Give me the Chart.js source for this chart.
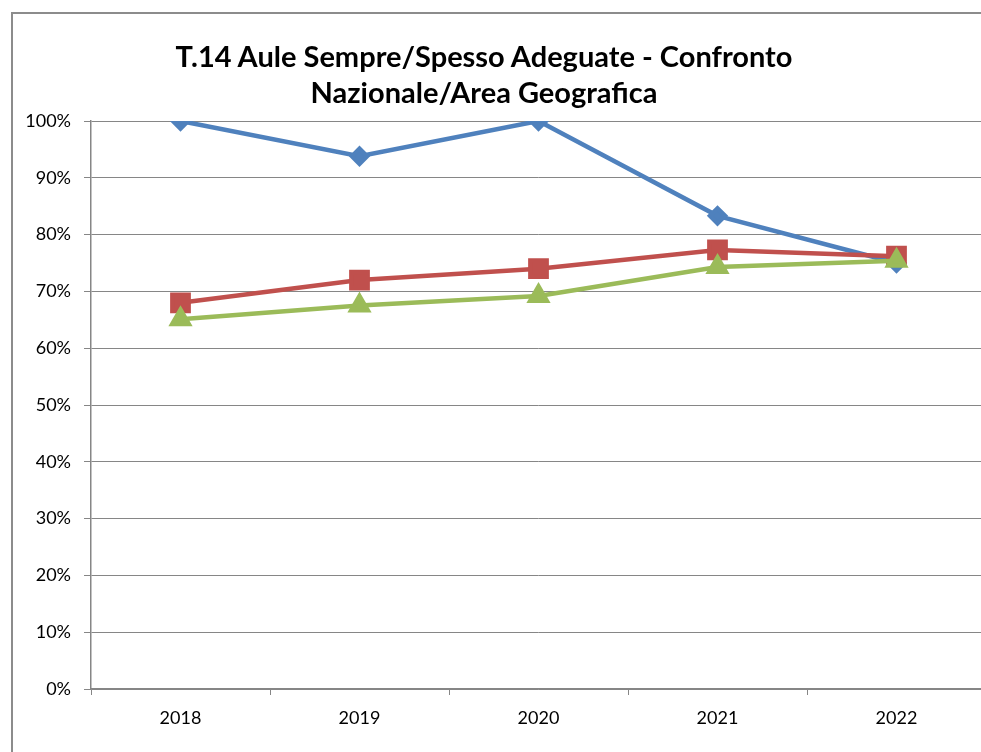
<!DOCTYPE html>
<html>
<head>
<meta charset="utf-8">
<script src="https://cdn.jsdelivr.net/npm/chart.js@4"></script>
<style>
    html, body { margin: 0; padding: 0; background: #fff; overflow: hidden; width: 981px; height: 752px; }
    #wrap { position: absolute; left: 0; top: 0; width: 1010px; height: 780px; }
    #title {
        position: absolute; left: 134px; width: 700px; top: 38px;
        text-align: center; font-family: Lato, sans-serif; font-weight: bold;
        font-size: 29px; line-height: 36px; color: #000; white-space: nowrap;
    }
</style>
</head>
<body>
<div id="wrap"><canvas id="chart"></canvas></div>
<div id="title">T.14 Aule Sempre/Spesso Adeguate - Confronto<br>Nazionale/Area Geografica</div>
<script>
const years = ["2018", "2019", "2020", "2021", "2022"];
const scuola = [100, 93.8, 100, 83.3, 75.0];
const areaGeografica = [68.0, 72.0, 74.0, 77.3, 76.2];
const nazionale = [65.1, 67.5, 69.2, 74.3, 75.4];

const axisColor = "#868686";
const tickFont = {family: "Lato", size: 18};

// outer chart border, only the left and top sides are inside the picture
const frameBorder = {
    id: "frameBorder",
    beforeDraw(chart) {
        const ctx = chart.ctx;
        ctx.save();
        ctx.strokeStyle = "#8c8c8c";
        ctx.lineWidth = 2;
        ctx.beginPath();
        ctx.moveTo(12, chart.height);
        ctx.lineTo(12, 13);
        ctx.lineTo(chart.width, 13);
        ctx.stroke();
        ctx.restore();
    },
};

new Chart(document.getElementById("chart"), {
    type: "line",
    data: {
        labels: years,
        datasets: [
            {label: "Scuola", data: scuola, borderColor: "#4f81bd", backgroundColor: "#4f81bd",
             borderWidth: 4.5, pointStyle: "rectRot", pointRadius: 7.5, pointHoverRadius: 7.5, order: 3},
            {label: "Area Geografica", data: areaGeografica, borderColor: "#c0504d", backgroundColor: "#c0504d",
             borderWidth: 4.5, pointStyle: "rect", pointRadius: 11.5, pointHoverRadius: 11.5, order: 2},
            {label: "Nazionale", data: nazionale, borderColor: "#9bbb59", backgroundColor: "#9bbb59",
             borderWidth: 4.5, pointStyle: "triangle", pointRadius: 9.5, pointHoverRadius: 9.5, order: 1},
        ],
    },
    options: {
        responsive: true,
        maintainAspectRatio: false,
        animation: false,
        layout: {padding: {top: 121, left: 0, right: 24, bottom: 41}},
        plugins: {legend: {display: false}, title: {display: false}, tooltip: {enabled: false}},
        scales: {
            x: {
                offset: true,
                grid: {offset: true, drawOnChartArea: false, drawTicks: true, tickLength: 6, color: axisColor},
                border: {color: axisColor, width: 1.5},
                ticks: {color: "#000", font: tickFont, padding: 12, maxRotation: 0},
                afterFit: (s) => { s.height = 50; },
            },
            y: {
                min: 0, max: 100,
                grid: {color: axisColor, lineWidth: 1, tickLength: 7},
                border: {color: axisColor, width: 1.5},
                ticks: {stepSize: 10, color: "#000", font: tickFont, padding: 13,
                        callback: (v) => v + "%"},
                afterFit: (s) => { s.width = 91; },
            },
        },
    },
    plugins: [frameBorder],
});
</script>
</body>
</html>
